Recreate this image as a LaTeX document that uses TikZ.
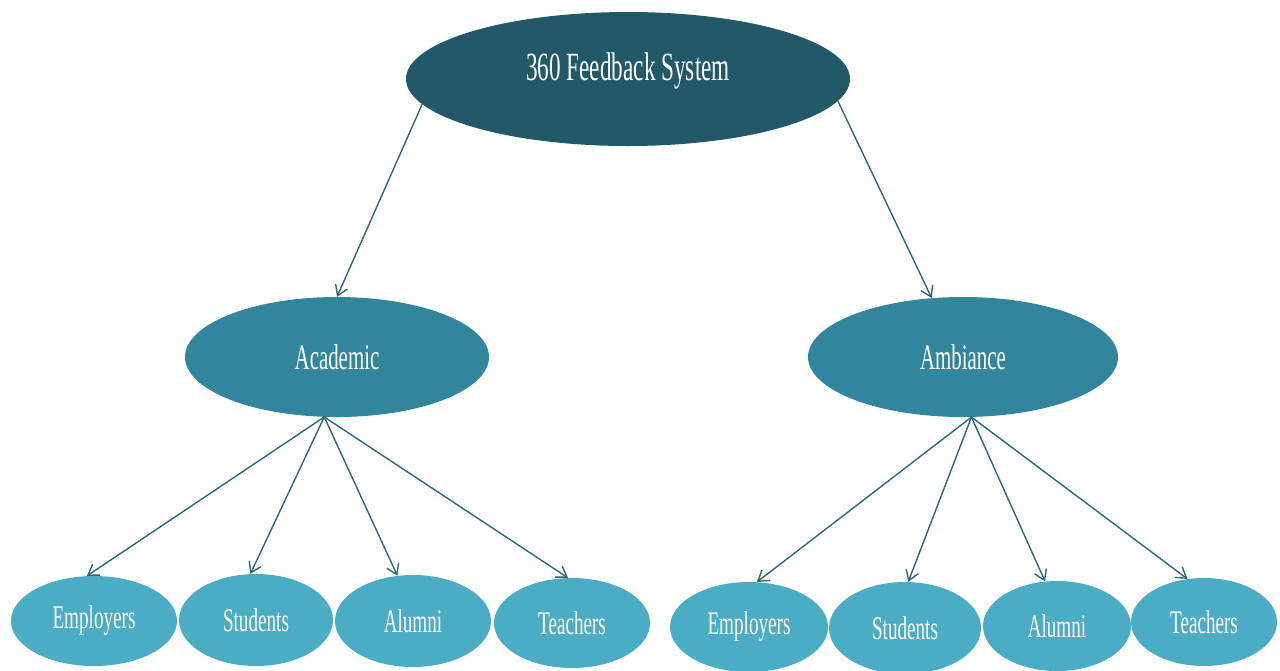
\documentclass[tikz,border=0pt]{standalone}
\usepackage{fontspec}
\newfontfamily\narrowserif[FakeStretch=0.58]{Liberation Serif}
\usetikzlibrary{positioning, arrows.meta, shapes.geometric}
\definecolor{tealdark}{HTML}{215968}
\definecolor{tealmid}{HTML}{31859C}
\definecolor{teallight}{HTML}{4BACC6}
\definecolor{arrowteal}{HTML}{2C6879}

\begin{document}
\begin{tikzpicture}[x=1pt, y=-1pt,
    bubble/.style={ellipse, inner sep=0pt},
    toptext/.style={text=white, font=\narrowserif\fontsize{40}{40}\selectfont},
    midtext/.style={text=white, font=\narrowserif\fontsize{36}{36}\selectfont},
    leaftext/.style={text=white, font=\narrowserif\fontsize{33}{33}\selectfont},
    leaf/.style={bubble, fill=teallight, minimum height=90pt},
    link/.style={-{Straight Barb[length=10pt, width=13pt]}, draw=arrowteal, line width=1.4pt}]
    \useasboundingbox (0,0) rectangle (1280,670);
    % root and the two areas
    \node (Root) [bubble, fill=tealdark, minimum width=444pt, minimum height=134pt, label={[toptext, yshift=8pt]center:360 Feedback System}] at (628,79) {};
    \node (Acad) [bubble, fill=tealmid, minimum width=304pt, minimum height=120pt, label={[midtext]center:Academic}] at (337,357) {};
    \node (Amb) [bubble, fill=tealmid, minimum width=310pt, minimum height=120pt, label={[midtext]center:Ambiance}] at (963,357) {};
    % feedback sources
    \node (EmpA) [leaf, minimum width=166pt, label={[leaftext]center:Employers}] at (94,621) {};
    \node (StuA) [leaf, minimum width=154pt, minimum height=92pt, label={[leaftext]center:Students}] at (256,620) {};
    \node (AluA) [leaf, minimum width=156pt, minimum height=92pt, label={[leaftext]center:Alumni}] at (413,621) {};
    \node (TeaA) [leaf, minimum width=156pt, label={[leaftext]center:Teachers}] at (572,623) {};
    \node (EmpB) [leaf, minimum width=158pt, label={[leaftext]center:Employers}] at (749,627) {};
    \node (StuB) [leaf, minimum width=152pt, minimum height=92pt, label={[leaftext]center:Students}] at (905,628) {};
    \node (AluB) [leaf, minimum width=148pt, label={[leaftext]center:Alumni}] at (1057,626) {};
    \node (TeaB) [leaf, minimum width=146pt, minimum height=88pt, label={[leaftext]center:Teachers}] at (1204,622) {};
    \draw [link] (Root.187) -- (Acad.north);
    \draw [link] (Root.354) -- (Amb.118);
    \foreach \leafname/\ang in {EmpA/99, StuA/97, AluA/109, TeaA/95}
        \draw [link] (Acad.258) -- (\leafname.\ang);
    \foreach \leafname/\ang in {EmpB/80, StuB/86, AluB/105, TeaB/111}
        \draw [link] (Amb.278) -- (\leafname.\ang);
\end{tikzpicture}
\end{document}
